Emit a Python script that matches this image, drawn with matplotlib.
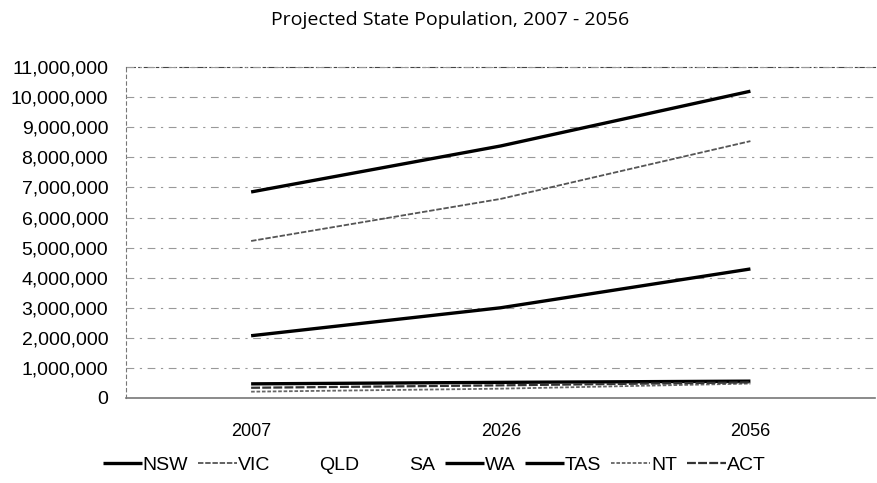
"""Projected state population line chart, 2007 - 2056."""

import matplotlib

matplotlib.use("Agg")
import matplotlib.pyplot as plt
from matplotlib.ticker import FuncFormatter

years = ["2007", "2026", "2056"]
states = ["NSW", "VIC", "QLD", "SA", "WA", "TAS", "NT", "ACT"]
nsw = [6_850_000, 8_380_000, 10_200_000]
vic = [5_220_000, 6_620_000, 8_540_000]
qld = [4_180_000, 6_400_000, 8_900_000]
sa = [1_580_000, 1_850_000, 2_060_000]
wa = [2_070_000, 3_000_000, 4_290_000]
tas = [470_000, 520_000, 560_000]
nt = [210_000, 310_000, 480_000]
act = [340_000, 420_000, 520_000]
values = [nsw, vic, qld, sa, wa, tas, nt, act]

# scanned original: QLD and SA came out blank
styles = {
    "NSW": dict(color="black", lw=2.4, ls="-"),
    "VIC": dict(color="#555555", lw=1.3, ls=(0, (3, 1))),
    "QLD": dict(color="white", lw=1.5, ls="-"),
    "SA": dict(color="white", lw=1.5, ls="-"),
    "WA": dict(color="black", lw=2.4, ls="-"),
    "TAS": dict(color="black", lw=2.4, ls="-"),
    "NT": dict(color="#666666", lw=1.3, ls=(0, (2, 1))),
    "ACT": dict(color="#333333", lw=1.6, ls=(0, (4, 1))),
}

fig = plt.figure(figsize=(8.77, 4.83), dpi=100)
ax = fig.add_axes([0.144, 0.176, 0.854, 0.685])

x = list(range(len(years)))
for name, vals in zip(states, values):
    st = styles[name]
    z = 1 if st["color"] == "white" else 3
    ax.plot(x, vals, label=name, color=st["color"], linewidth=st["lw"],
            linestyle=st["ls"], solid_capstyle="butt", zorder=z)

ax.set_xlim(-0.5, 2.5)
ax.set_ylim(0, 11_000_000)
ax.set_yticks(range(0, 11_000_001, 1_000_000))
ax.yaxis.set_major_formatter(FuncFormatter(lambda v, p: f"{int(v):,}"))
ax.set_xticks(x)
ax.set_xticklabels(years)
ax.tick_params(axis="y", length=0, labelsize=14, pad=13)
ax.tick_params(axis="x", length=0, labelsize=13, pad=18)
for lab in ax.get_xticklabels() + ax.get_yticklabels():
    lab.set_fontfamily("Liberation Sans")

ax.grid(axis="y", color="#999999", linestyle=(0, (7, 5, 2, 5)), linewidth=0.8)
ax.set_axisbelow(False)
ax.spines["right"].set_visible(False)
ax.spines["top"].set_linestyle((0, (8, 3, 2, 3)))
ax.spines["top"].set_color("#444444")
ax.spines["left"].set_linestyle((0, (3, 3)))
ax.spines["left"].set_color("#777777")
ax.spines["left"].set_linewidth(0.8)
ax.spines["bottom"].set_color("#777777")
ax.spines["bottom"].set_linewidth(1.2)

fig.text(0.513, 0.958, "Projected State Population, 2007 - 2056",
         ha="center", va="center", fontsize=14, fontfamily="Open Sans",
         fontweight="medium")

fig.legend(loc="center", bbox_to_anchor=(0.495, 0.037), ncol=8,
           frameon=False, handlelength=2.0, handletextpad=0.05,
           columnspacing=0.5, prop={"family": "Liberation Sans", "size": 14})

fig.savefig("out.png", dpi=100)
